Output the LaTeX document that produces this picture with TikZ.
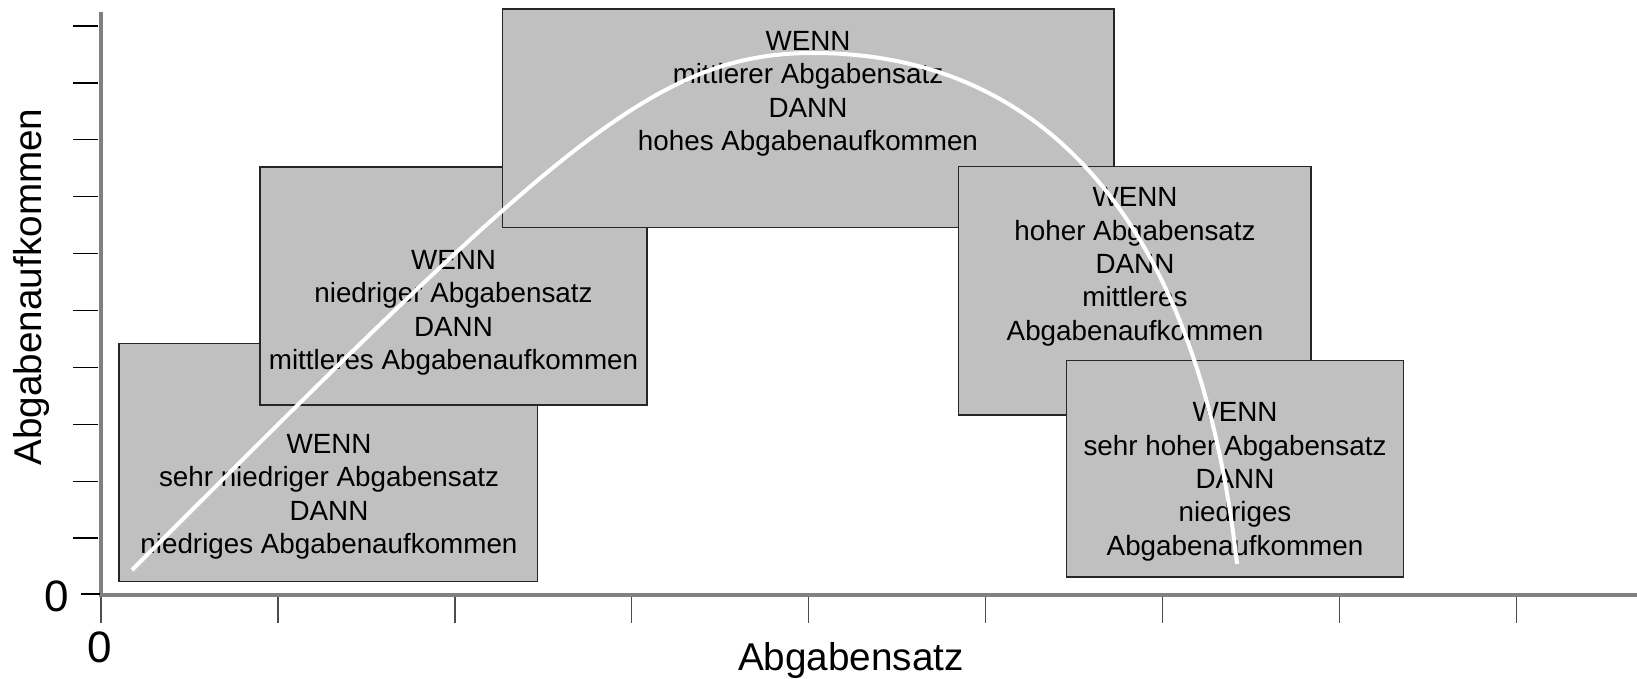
\documentclass[tikz,border=0pt]{standalone}
\usepackage{fontspec}
\setmainfont{Liberation Sans}
\definecolor{boxgray}{HTML}{C0C0C0}
\definecolor{axisgray}{HTML}{808080}
\begin{document}
\begin{tikzpicture}[x=1pt,y=-1pt,
  box/.style={draw=black!85, line width=1.2pt, fill=boxgray},
  lbl/.style={font=\fontsize{27.8}{33.4}\selectfont, inner sep=0pt, anchor=base},
  axisline/.style={draw=axisgray, line width=3.3pt},
  ytick/.style={draw=black, line width=1.3pt},
  xtick/.style={draw=black!70, line width=1.4pt},
  big/.style={font=\fontsize{38.7}{46}\selectfont, inner sep=0pt},
  zero/.style={font=\fontsize{44}{50}\selectfont, inner sep=0pt},
  curve/.style={draw=white, line width=4pt}]
\useasboundingbox (0,0) rectangle (1637,679);
% axes
\coordinate (O) at (101,595);
\coordinate (ytop) at (101,12.5);
\coordinate (xend) at (1637,595);
\draw[axisline] (ytop) -- (O) -- (xend);
\foreach \k in {1,...,10} \draw[ytick] (73,595-56.9*\k) -- (98,595-56.9*\k);
\draw[ytick] (81,594) -- (100,594);
\foreach \k in {0,...,8} \draw[xtick] (101+176.9*\k,597) -- (101+176.9*\k,623);
\node[zero] (y0) at (56.7,596.5) {0};
\node[zero] (x0) at (100,647.5) {0};
\node[big, anchor=base] (xl) at (851,670) {Abgabensatz};
\node[big, rotate=90] (yl) at (31,287) {Abgabenaufkommen};
% boxes
\draw[box] (119,343.5) rectangle (537.7,581.5);
\node[lbl] (t1) at (329,453.3) {\begin{tabular}[t]{@{}c@{}}WENN\\sehr niedriger Abgabensatz\\DANN\\niedriges Abgabenaufkommen\end{tabular}};
\draw[box] (260,167) rectangle (647,405);
\node[lbl] (t2) at (453.5,269.3) {\begin{tabular}[t]{@{}c@{}}WENN\\niedriger Abgabensatz\\DANN\\mittleres Abgabenaufkommen\end{tabular}};
\draw[box] (502.4,9) rectangle (1114,227.6);
\node[lbl] (t3) at (808,50.5) {\begin{tabular}[t]{@{}c@{}}WENN\\mittlerer Abgabensatz\\DANN\\hohes Abgabenaufkommen\end{tabular}};
\draw[box] (958.8,166.5) rectangle (1311,415);
\node[lbl] (t4) at (1135,206.7) {\begin{tabular}[t]{@{}c@{}}WENN\\hoher Abgabensatz\\DANN\\mittleres\\Abgabenaufkommen\end{tabular}};
\draw[box] (1066.5,360.5) rectangle (1403.5,577);
\node[lbl] (t5) at (1235,421.7) {\begin{tabular}[t]{@{}c@{}}WENN\\sehr hoher Abgabensatz\\DANN\\niedriges\\Abgabenaufkommen\end{tabular}};
% curve
\coordinate (cs) at (132,570);
\coordinate (cp) at (813,53);
\coordinate (ce) at (1237,564);
\draw[curve] (cs) .. controls (552,150) and (653,53) .. (cp) .. controls (1063,53) and (1202,249) .. (ce);
\end{tikzpicture}
\end{document}
